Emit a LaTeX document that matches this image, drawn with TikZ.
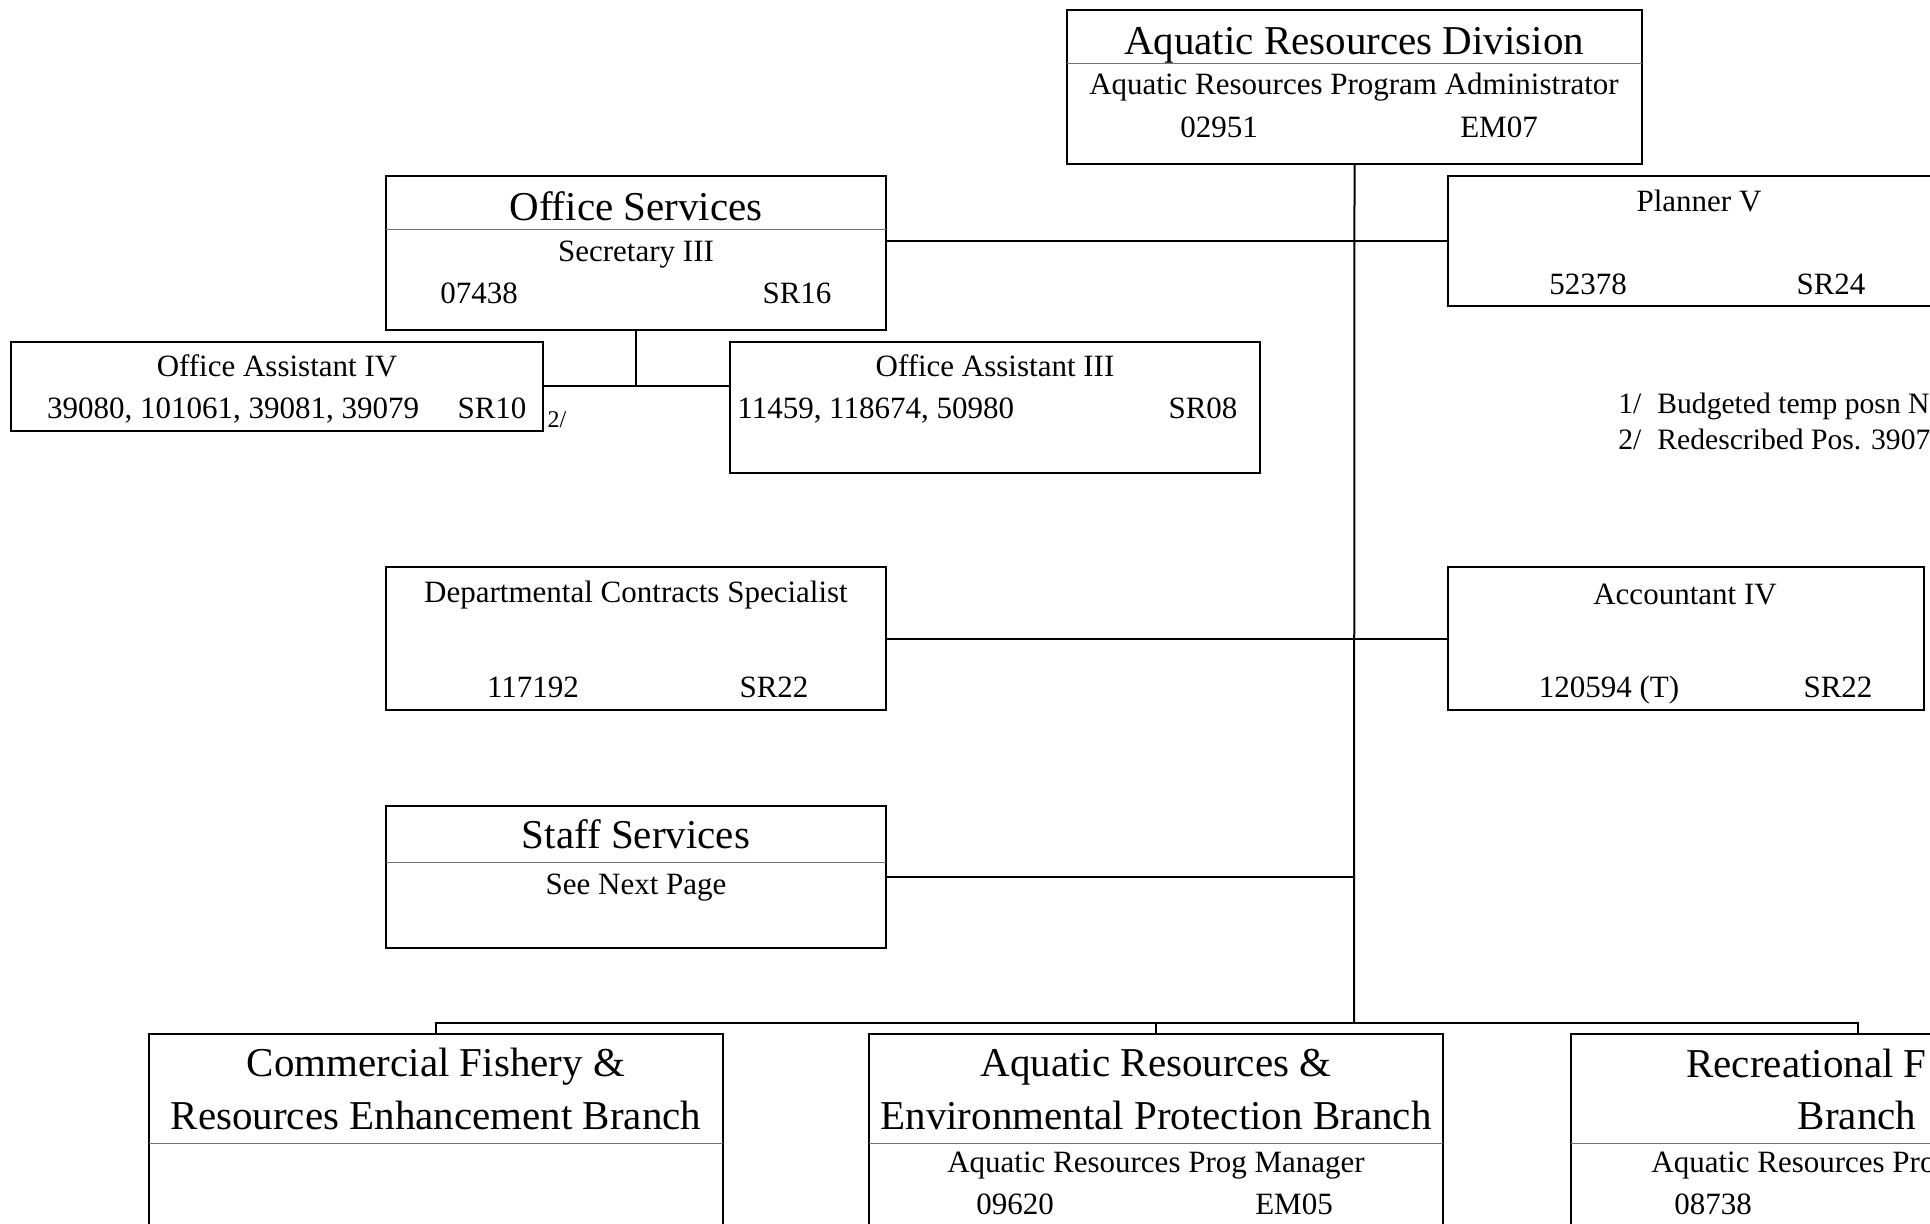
\documentclass[tikz,border=0pt]{standalone}
\usepackage{fontspec}
\setmainfont{Liberation Serif}
\usetikzlibrary{positioning,calc}
\tikzset{
  post/.style={rectangle, draw=black, line width=1pt, inner sep=0pt, outer sep=0pt, anchor=north west},
  rule/.style={draw=black!55, line width=0.5pt},
  link/.style={draw=black, line width=1pt},
  hd/.style={inner sep=0pt, anchor=base, font=\fontsize{20.5}{24}\selectfont},
  txt/.style={inner sep=0pt, anchor=base, font=\fontsize{15.5}{18}\selectfont},
  note/.style={inner sep=0pt, anchor=base west, font=\fontsize{14.8}{18}\selectfont},
  fn/.style={inner sep=0pt, anchor=base, font=\fontsize{12}{14}\selectfont}
}

\begin{document}
\begin{tikzpicture}[x=0.5pt, y=-0.5pt]
 \useasboundingbox (0,0) rectangle (1930,1224);
 \clip (0,0) rectangle (1930,1224);
 \node[post, minimum width=287.5pt, minimum height=77pt] (ard) at (1067,10) {};
 \node[post, minimum width=250pt, minimum height=77pt] (os) at (386,176) {};
 \node[post, minimum width=250pt, minimum height=65pt] (planner) at (1448,176) {};
 \node[post, minimum width=266pt, minimum height=44.5pt] (oa4) at (11,342) {};
 \node[post, minimum width=265pt, minimum height=65.5pt] (oa3) at (730,342) {};
 \node[post, minimum width=250pt, minimum height=71.5pt] (dcs) at (386,567) {};
 \node[post, minimum width=238pt, minimum height=71.5pt] (acct) at (1448,567) {};
 \node[post, minimum width=250pt, minimum height=71pt] (staff) at (386,806) {};
 \node[post, minimum width=287pt, minimum height=110pt] (cf) at (149,1034) {};
 \node[post, minimum width=287pt, minimum height=110pt] (ar) at (869,1034) {};
 \node[post, minimum width=287pt, minimum height=110pt] (rf) at (1571,1034) {};
 \draw[rule] ($(ard.north west)+(0,54)$) -- ($(ard.north east)+(0,54)$);
 \draw[rule] ($(os.north west)+(0,54)$) -- ($(os.north east)+(0,54)$);
 \draw[rule] ($(staff.north west)+(0,56)$) -- ($(staff.north east)+(0,56)$);
 \draw[rule] ($(cf.north west)+(0,109)$) -- ($(cf.north east)+(0,109)$);
 \draw[rule] ($(ar.north west)+(0,109)$) -- ($(ar.north east)+(0,109)$);
 \draw[rule] ($(rf.north west)+(0,109)$) -- ($(rf.north east)+(0,109)$);
 \coordinate (bus) at (1354,1023);
 \draw[link] (ard.south) -- (bus);
 \draw[link] (planner.west) -- (planner.west -| os.east);
 \draw[link] (dcs.east) -- (acct.west);
 \draw[link] (staff.east) -- (staff.east -| bus);
 \draw[link] (os.south) -- (os.south |- oa4.east);
 \draw[link] (oa4.east) -- (oa4.east -| oa3.west);
 \draw[link] (cf.north) |- (bus) -| (rf.north);
 \draw[link] (ar.north) -- (ar.north |- bus);
 \node[hd] (ardT) at (1354,55) {Aquatic Resources Division};
 \node[txt] (ardP) at (1354,94.5) {Aquatic Resources Program Administrator};
 \node[txt] (ardN) at (1219,137.5) {02951};
 \node[txt] (ardG) at (1499,137.5) {EM07};
 \node[hd] (osT) at (636,221) {Office Services};
 \node[txt] (osP) at (636,262) {Secretary III};
 \node[txt] (osN) at (479,303.5) {07438};
 \node[txt] (osG) at (797,303.5) {SR16};
 \node[txt] (plP) at (1699,211.3) {Planner V};
 \node[txt] (plN) at (1588,294.3) {52378};
 \node[txt] (plG) at (1831,294.3) {SR24};
 \node[txt] (oa4P) at (277,376.5) {Office Assistant IV};
 \node[txt] (oa4N) at (233,418.5) {39080, 101061, 39081, 39079};
 \node[txt] (oa4G) at (492,418.5) {SR10};
 \node[fn] (oa4F) at (557,427.4) {2/};
 \node[txt] (oa3P) at (995,376.5) {Office Assistant III};
 \node[txt, anchor=base west] (oa3N) at (737,418.7) {11459, 118674, 50980};
 \node[txt] (oa3G) at (1203,418.7) {SR08};
 \node[note] (note1) at (1618,414) {1/\hspace{8pt}Budgeted temp posn N};
 \node[note] (note2) at (1618,450) {2/\hspace{8pt}Redescribed Pos. 3907};
 \node[txt] (dcsP) at (636,602.7) {Departmental Contracts Specialist};
 \node[txt] (dcsN) at (533,697.3) {117192};
 \node[txt] (dcsG) at (774,697.3) {SR22};
 \node[txt] (acctP) at (1685,604.7) {Accountant IV};
 \node[txt] (acctN) at (1609,697.5) {120594 (T)};
 \node[txt] (acctG) at (1838,697.5) {SR22};
 \node[hd] (staffT) at (636,848.5) {Staff Services};
 \node[txt] (staffP) at (636,894.5) {See Next Page};
 \node[hd] (cfT) at (436,1076) {Commercial Fishery \&};
 \node[hd] (cfU) at (436,1129.5) {Resources Enhancement Branch};
 \node[hd] (arT) at (1156,1076) {Aquatic Resources \&};
 \node[hd] (arU) at (1156,1129.5) {Environmental Protection Branch};
 \node[txt] (arP) at (1156,1172.7) {Aquatic Resources Prog Manager};
 \node[txt] (arN) at (1015,1214.3) {09620};
 \node[txt] (arG) at (1294,1214.3) {EM05};
 \node[hd, anchor=base west] (rfT) at (1686,1077) {Recreational F};
 \node[hd] (rfU) at (1857,1129.5) {Branch};
 \node[txt, anchor=base west] (rfP) at (1651,1172.7) {Aquatic Resources Pro};
 \node[txt] (rfN) at (1713,1214.3) {08738};
\end{tikzpicture}
\end{document}
